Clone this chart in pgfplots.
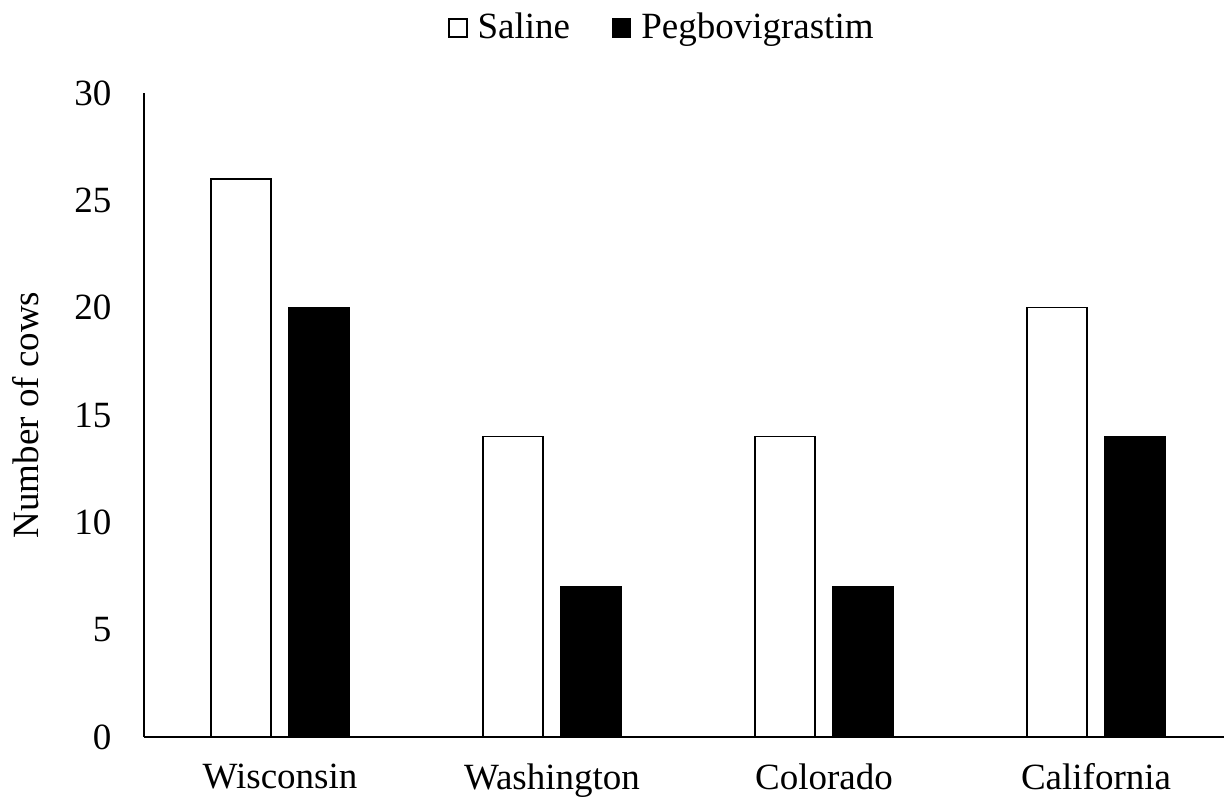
\documentclass[border=0pt]{standalone}
\usepackage{fontspec}
\setmainfont{Liberation Serif}
\usepackage{pgfplots}
\pgfplotsset{compat=1.18}
\begin{document}
\fontsize{18.5}{22}\selectfont
\begin{tikzpicture}
\useasboundingbox (-72pt,-30.5pt) rectangle (540pt,368.5pt);
\begin{axis}[
    at={(0,0)}, anchor=south west,
    scale only axis,
    width=544pt, height=322pt,
    ybar=9pt, bar width=30pt,
    xmin=-0.5, xmax=3.5,
    ymin=0, ymax=30,
    xtick={0,1,2,3},
    xticklabels={Wisconsin,Washington,Colorado,California},
    ytick={0,5,...,30},
    axis x line*=bottom, axis y line*=left,
    axis line style={line width=0.7pt,-},
    major tick length=0pt,
    /pgf/number format/assume math mode=true,
    tick label style={font=\fontsize{18.5}{22}\selectfont},
    yticklabel style={xshift=-10pt},
    xticklabel style={yshift=-7pt},
    ylabel={Number of cows},
    ylabel style={font=\fontsize{18.5}{22}\selectfont, yshift=5pt},
    legend columns=-1,
    legend style={draw=none, at={(0.477,1.101)}, anchor=center,
        font=\fontsize{18.5}{22}\selectfont,
        /tikz/every odd column/.append style={column sep=3pt},
        /tikz/every even column/.append style={column sep=19pt}},
    legend image code/.code={\draw[#1, line width=0.6pt] (0pt,-4.5pt) rectangle (9pt,4.5pt);},
]
\addplot[draw=black, fill=white, line width=0.7pt] coordinates {(0,26) (1,14) (2,14) (3,20)};
\addlegendentry{Saline}
\addplot[draw=black, fill=black, line width=0.7pt] coordinates {(0,20) (1,7) (2,7) (3,14)};
\addlegendentry{Pegbovigrastim}
\end{axis}
\end{tikzpicture}
\end{document}
